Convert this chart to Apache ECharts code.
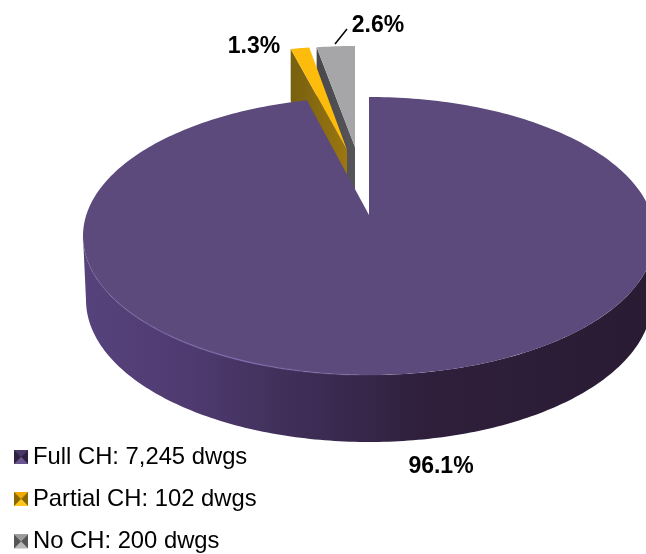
<!DOCTYPE html>
<html>
<head>
<meta charset="utf-8">
<script src="https://cdn.jsdelivr.net/npm/echarts@6/dist/echarts.min.js"></script>
<style>
html, body { margin: 0; padding: 0; background: #fff; }
#main { width: 646px; height: 554px; }
</style>
</head>
<body>
<div id="main"></div>
<script>
var names = ['Full CH: 7,245 dwgs', 'Partial CH: 102 dwgs', 'No CH: 200 dwgs']
var percents = [96.1, 1.3, 2.6]
var percentLabels = ['96.1%', '1.3%', '2.6%']

var FONT = '"Liberation Sans", Arial, sans-serif'
var grad = function (stops, x0, y0, x1, y1) {
  return new echarts.graphic.LinearGradient(x0, y0, x1, y1, stops.map(function (c, i) {
    return { offset: c[0], color: c[1] }
  }))
}

// slice angles, clockwise from 12 o'clock, come from the percents
var total = percents.reduce(function (a, b) { return a + b }, 0)
var startAngles = []
var sum = 0
percents.forEach(function (p) {
  startAngles.push(sum / total * 360)
  sum += p
})
var endAngles = startAngles.map(function (s, i) { return s + percents[i] / total * 360 })

var top_ = { cx: 369, cy: 236, rx: 286, ry: 139 }
var bottom_ = { cx: 369, cy: 300, rx: 283, ry: 142 }
var apex = [369, 215]
var perspectiveFix = 1.5 // apex sits above the ellipse centre, edge lands a bit later

var onEllipse = function (e, deg) {
  var a = deg * Math.PI / 180
  return [e.cx + e.rx * Math.sin(a), e.cy - e.ry * Math.cos(a)]
}
var arc = function (e, from, to) {
  var pts = []
  var n = Math.max(2, Math.ceil(Math.abs(to - from)))
  for (var i = 0; i <= n; i++) pts.push(onEllipse(e, from + (to - from) * i / n))
  return pts
}

// the main slice: wall first, then the top face
var renderFull = function (params, api) {
  var i = api.value(0)
  var face = [apex].concat(arc(top_, startAngles[i], endAngles[i] + perspectiveFix))
  var wall = arc(top_, 90, 270).concat(arc(bottom_, 270, 90))
  return {
    type: 'group',
    children: [
      {
        type: 'polygon',
        shape: { points: wall },
        style: {
          fill: grad([[0, '#57437c'], [0.18, '#4f3b70'], [0.4, '#3d2c54'], [0.6, '#2f1f3c'], [1, '#2a1b33']], 0, 0, 1, 0)
        }
      },
      {
        type: 'polygon',
        shape: { points: face },
        style: { fill: '#5c4a7c' }
      },
      {
        type: 'polyline',
        shape: { points: arc(top_, 270, 175) },
        style: {
          fill: null,
          lineWidth: 1.5,
          stroke: grad([[0, 'rgba(125,105,170,0.1)'], [0.5, 'rgba(125,105,170,0.9)'], [1, 'rgba(125,105,170,0)']], 0, 0, 1, 0)
        }
      },
      {
        type: 'text',
        style: { text: percentLabels[i], x: 441, y: 467, align: 'center', verticalAlign: 'middle', font: 'bold 23px ' + FONT, fill: '#000' }
      }
    ]
  }
}

// the two pulled out slices have their own apex and a smaller radius
var pulled = {
  1: { apex: [347, 150], rx: 232, up: 104, depth: 52, top: '#fdbb0c', side: ['#77600f', '#9b7611'], labelX: 254, labelY: 47 },
  2: { apex: [355, 147], rx: 236, up: 101, depth: 50, top: '#a6a6a8', side: ['#48484c', '#55555a'], labelX: 378, labelY: 26 }
}
var renderPulled = function (params, api) {
  var i = api.value(0)
  var s = pulled[i]
  var e = { cx: s.apex[0], cy: s.apex[1], rx: s.rx, ry: s.up }
  var outer = onEllipse(e, startAngles[i])
  var children = [
    {
      type: 'polygon',
      shape: {
        points: [outer, s.apex, [s.apex[0], s.apex[1] + s.depth], [outer[0], outer[1] + s.depth]]
      },
      style: { fill: grad([[0, s.side[0]], [1, s.side[1]]], 0, 0, 1, 0) }
    },
    {
      type: 'polygon',
      shape: { points: [s.apex].concat(arc(e, startAngles[i], endAngles[i])) },
      style: { fill: s.top }
    },
    {
      type: 'text',
      style: { text: percentLabels[i], x: s.labelX, y: s.labelY, align: 'center', verticalAlign: 'middle', font: 'bold 23px ' + FONT, fill: '#000' }
    }
  ]
  if (i === 2) {
    children.push({
      type: 'line',
      shape: { x1: 335, y1: 44, x2: 347, y2: 29 },
      style: { stroke: '#000', lineWidth: 1.5 }
    })
  }
  return { type: 'group', children: children }
}

var seriesOf = function (i, color, render, z) {
  return {
    type: 'custom',
    name: names[i],
    coordinateSystem: 'none',
    silent: true,
    animation: false,
    z: z,
    itemStyle: { color: color },
    data: [[i, percents[i]]],
    renderItem: render
  }
}

// bevel on the legend squares
var bevel = function (x, y, size, tones) {
  var m = [x + size / 2, y + size / 2]
  var a = [x, y], b = [x + size, y], c = [x + size, y + size], d = [x, y + size]
  return [[a, b], [b, c], [c, d], [d, a]].map(function (edge, i) {
    return {
      type: 'polygon',
      shape: { points: [edge[0], edge[1], m] },
      style: { fill: tones[i] },
      z: 20
    }
  })
}

var chart = echarts.init(document.getElementById('main'))
chart.setOption({
  backgroundColor: '#fff',
  animation: false,
  legend: {
    orient: 'vertical',
    left: 14,
    top: 445,
    padding: 0,
    data: names,
    icon: 'rect',
    itemWidth: 14,
    itemHeight: 14,
    itemGap: 18,
    selectedMode: false,
    textStyle: { fontFamily: FONT, fontSize: 23.8, color: '#000' }
  },
  graphic: bevel(14, 450, 14, ['#4a3768', '#2e2140', '#6a5590', '#2e2140'])
    .concat(bevel(14, 492, 14, ['#f0aa00', '#8a6a00', '#ffc820', '#8a6a00']))
    .concat(bevel(14, 534.5, 14, ['#9a9a9a', '#555', '#b8b8b8', '#555'])),
  series: [
    seriesOf(2, '#a6a6a8', renderPulled, 1),
    seriesOf(1, '#fdbb0c', renderPulled, 2),
    seriesOf(0, '#5c4a7c', renderFull, 3)
  ]
})
</script>
</body>
</html>
